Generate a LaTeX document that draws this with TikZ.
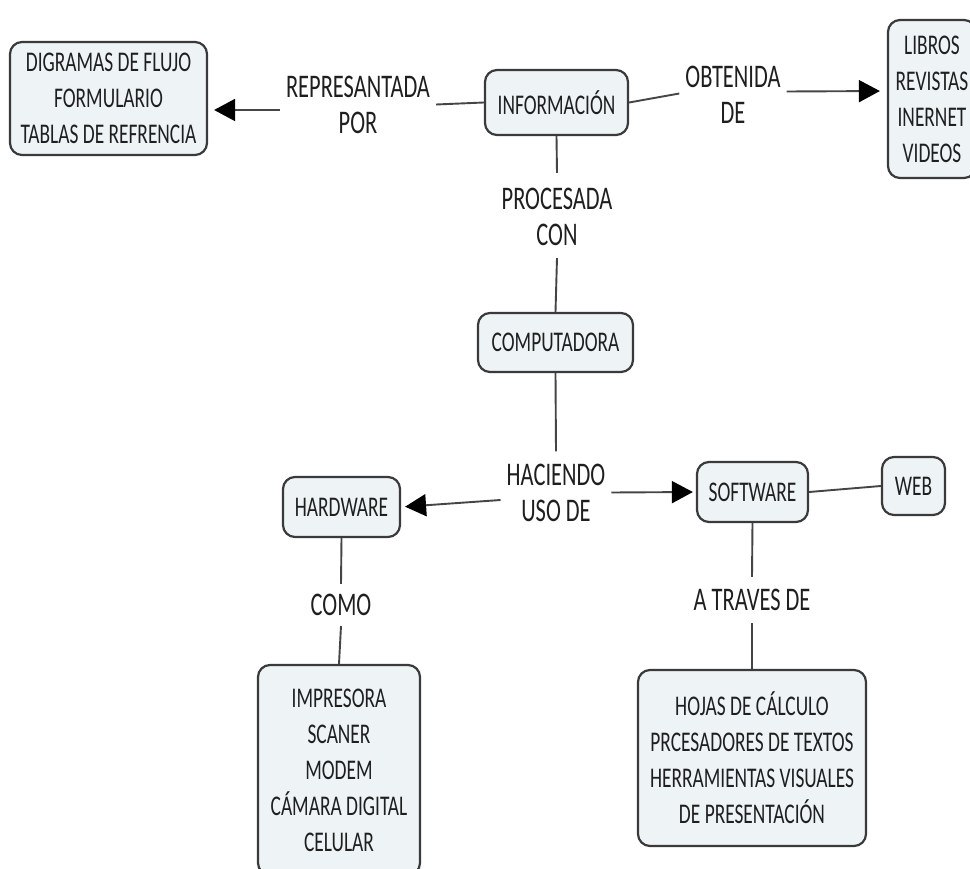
\documentclass[tikz,border=0pt]{standalone}
\usepackage{fontspec}
\setmainfont{Carlito}[FakeStretch=0.68]
\usetikzlibrary{arrows.meta}
\definecolor{boxfill}{HTML}{EEF3F6}
\definecolor{boxline}{HTML}{3A3A3A}
\definecolor{linkline}{HTML}{454545}
\begin{document}
\begin{tikzpicture}[x=1pt,y=-1pt,
  concept/.style={draw=boxline, line width=2.2pt, fill=boxfill, rounded corners=12pt,
    align=center, inner sep=0pt, font=\fontsize{28.5}{36}\selectfont, text=black!88},
  linkword/.style={align=center, inner sep=6pt, font=\fontsize{33}{36}\selectfont, text=black!88},
  link/.style={draw=linkline, line width=1.9pt},
  arrowlink/.style={link, -{Triangle[length=21pt,width=22pt,fill=black,color=black]}}]
\clip (0,0) rectangle (970,869);
\fill[white] (0,0) rectangle (970,869);

% concepts
\node[concept, minimum width=197pt, minimum height=113pt] (repbox) at (108.5,98.5)
  {DIGRAMAS DE FLUJO\\FORMULARIO\\TABLAS DE REFRENCIA};
\node[concept, minimum width=143pt, minimum height=65pt] (info) at (556.5,102.5) {INFORMACIÓN};
\node[concept, minimum width=88pt, minimum height=158pt] (fuentes) at (932,99)
  {LIBROS\\REVISTAS\\INERNET\\VIDEOS};
\node[concept, minimum width=155pt, minimum height=59pt] (comp) at (555.5,342.5) {COMPUTADORA};
\node[concept, minimum width=117pt, minimum height=60pt] (hard) at (341.5,507) {HARDWARE};
\node[concept, minimum width=111pt, minimum height=60pt] (soft) at (752.5,492) {SOFTWARE};
\node[concept, minimum width=63pt, minimum height=58pt] (web) at (913.5,486) {WEB};
\node[concept, minimum width=228pt, minimum height=176pt] (swlist) at (752,758)
  {HOJAS DE CÁLCULO\\PRCESADORES DE TEXTOS\\HERRAMIENTAS VISUALES\\DE PRESENTACIÓN};
\node[concept, minimum width=162pt, minimum height=210pt] (hwlist) at (339,770)
  {IMPRESORA\\SCANER\\MODEM\\CÁMARA DIGITAL\\CELULAR};

% linking words
\node[linkword] (rep) at (358,104.5) {REPRESANTADA\\POR};
\node[linkword] (obt) at (733,94.5) {OBTENIDA\\DE};
\node[linkword] (proc) at (557,217) {PROCESADA\\CON};
\node[linkword] (uso) at (556,492.5) {HACIENDO\\USO DE};
\node[linkword] (como) at (341,605) {COMO};
\node[linkword] (trav) at (752,600) {A TRAVES DE};

% connectors
\draw[link] (info.west) -- (rep.east);
\draw[arrowlink, shorten >=6pt] ([yshift=-5.5pt]rep.west) -- (repbox.east |- 0,110);
\draw[link] (info.east) -- ([yshift=1pt]obt.west);
\draw[arrowlink, shorten >=7pt] ([yshift=3pt]obt.east) -- (fuentes.west |- 0,91);
\draw[link] (info.south) -- ([yshift=9pt]proc.north);
\draw[link] ([yshift=-6pt]proc.south) -- (comp.north);
\draw[link] (comp.south) -- ([yshift=6pt]uso.north);
\draw[arrowlink, shorten >=4pt] ([yshift=-7.5pt]uso.west) -- (hard.east);
\draw[arrowlink, shorten >=3pt] (uso.east) -- (soft.west);
\draw[link] (soft.east) -- (web.west);
\draw[link] (hard.south) -- ([yshift=4pt]como.north);
\draw[link] ([yshift=-4pt]como.south) -- (hwlist.north);
\draw[link] (soft.south) -- ([yshift=6pt]trav.north);
\draw[link] ([yshift=-6pt]trav.south) -- (swlist.north);
\end{tikzpicture}
\end{document}
